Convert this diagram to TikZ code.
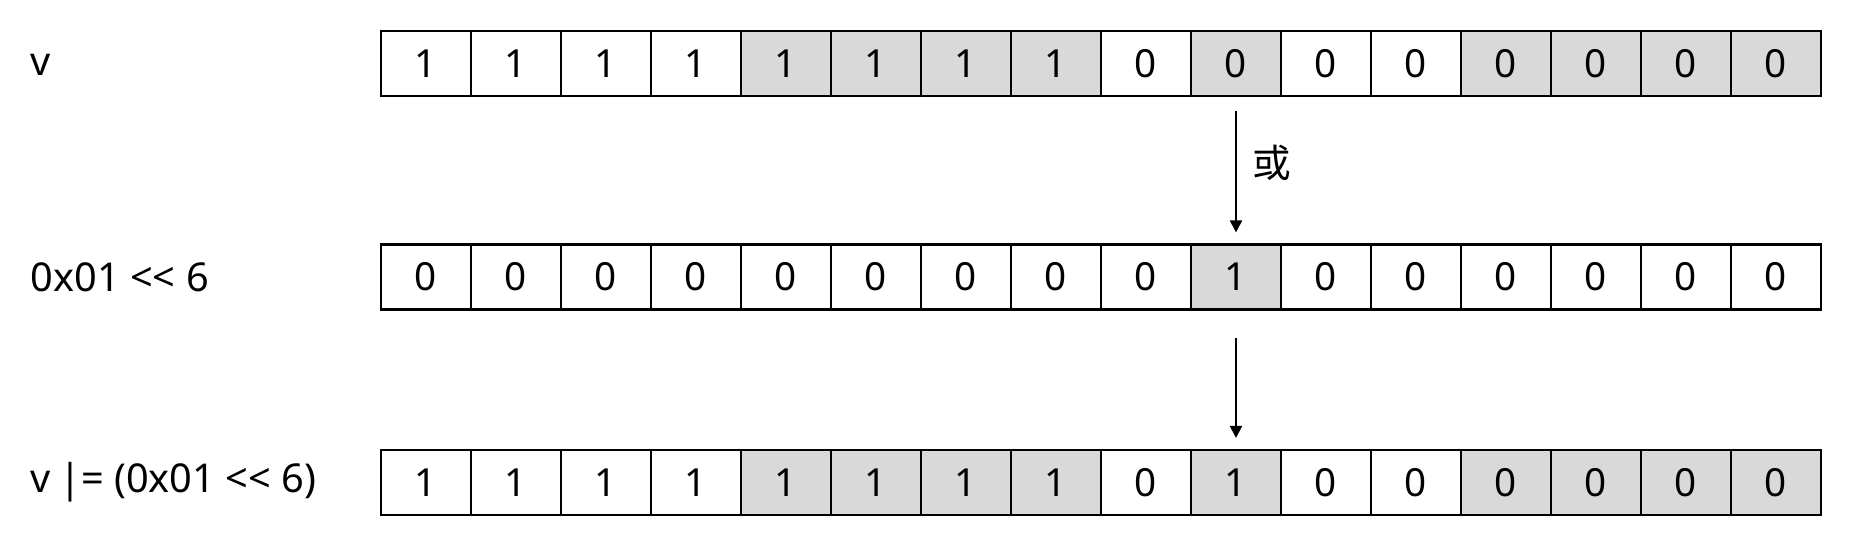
\documentclass[tikz,border=0pt]{standalone}
\usepackage{fontspec}
\setmainfont{Noto Sans}[Ligatures=TeXOff]
\newfontfamily\cjk{Noto Sans CJK SC}
\usetikzlibrary{arrows.meta}
\definecolor{cellgray}{HTML}{D9D9D9}
\begin{document}
\begin{tikzpicture}[x=0.01cm,y=-0.01cm,
  bitcell/.style={draw=black, line width=0.6pt, minimum width=0.9cm, minimum height=0.65cm, inner sep=0pt, font=\fontsize{11}{13}\selectfont},
  hl/.style={fill=cellgray},
  rowlabel/.style={anchor=west, inner sep=0pt, font=\fontsize{11.3}{13}\selectfont},
  flow/.style={line width=0.6pt, -{Triangle[length=0.12cm, width=0.12cm]}}]
\useasboundingbox (0,0) rectangle (1860,541);
% row 1: v
\foreach \v [count=\i from 0] in {1,1,1,1,1,1,1,1,0,0,0,0,0,0,0,0} {
  \pgfmathtruncatemacro{\g}{(\i>=4 && \i<=7) || \i==9 || \i>=12}
  \ifnum\g=1
    \node[bitcell,hl] (a\i) at ({381+45+90*\i},63.5) {\v};
  \else
    \node[bitcell] (a\i) at ({381+45+90*\i},63.5) {\v};
  \fi
}
% row 2: mask
\foreach \v [count=\i from 0] in {0,0,0,0,0,0,0,0,0,1,0,0,0,0,0,0} {
  \ifnum\i=9
    \node[bitcell,hl] (b\i) at ({381+45+90*\i},277) {\v};
  \else
    \node[bitcell] (b\i) at ({381+45+90*\i},277) {\v};
  \fi
}
% row 3: result
\foreach \v [count=\i from 0] in {1,1,1,1,1,1,1,1,0,1,0,0,0,0,0,0} {
  \pgfmathtruncatemacro{\g}{(\i>=4 && \i<=7) || \i==9 || \i>=12}
  \ifnum\g=1
    \node[bitcell,hl] (c\i) at ({381+45+90*\i},482.5) {\v};
  \else
    \node[bitcell] (c\i) at ({381+45+90*\i},482.5) {\v};
  \fi
}
% labels
\node[rowlabel] (la) at (30,65) {v};
\node[rowlabel] (lb) at (30,277) {0x01 << 6};
\node[rowlabel] (lc) at (30,482.5) {v\hspace{-0.05em} |= (0x01 << 6)};
% arrows
\draw[flow] ([yshift=-0.14cm]a9.south) -- ([yshift=0.11cm]b9.north)
  node[pos=0.43, right=0.04cm, font=\cjk\fontsize{11}{13}\selectfont] (op) {或};
\draw[flow] ([yshift=-0.27cm]b9.south) -- ([yshift=0.11cm]c9.north);
\end{tikzpicture}
\end{document}
